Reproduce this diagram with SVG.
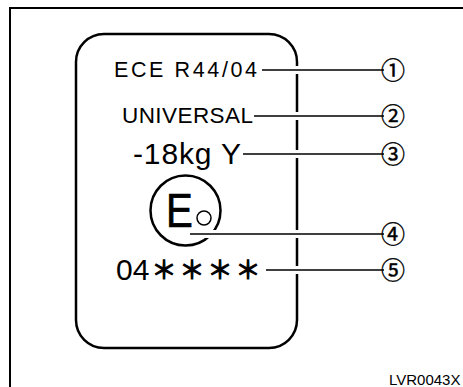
<svg xmlns="http://www.w3.org/2000/svg" width="463" height="387" viewBox="0 0 463 387">
<style>
  .t { font-family: "Liberation Sans", Arial, sans-serif; fill: #000; }
  .num { font-family: "Noto Sans CJK JP", "DejaVu Sans", sans-serif; font-size: 24px; fill: #000; stroke: #000; stroke-width: 0.4; text-anchor: middle; }
  .lead { stroke: #000; stroke-width: 1.5; fill: none; }
  .halo { stroke: #fff; stroke-width: 8; fill: none; }
</style>
<rect width="463" height="387" fill="#fff"/>
<g id="frame">
  <path d="M10 387 V8 H463" fill="none" stroke="#000" stroke-width="2"/>
</g>
<g id="label">
  <rect x="76" y="34" width="221" height="314" rx="28" ry="28" fill="none" stroke="#000" stroke-width="2.5"/>
</g>
<g id="t1"><text class="t" x="114" y="77" font-size="21.5" font-family="DejaVu Sans, sans-serif" textLength="143" lengthAdjust="spacing">ECE R44/04</text></g>
<g id="t2"><text class="t" x="122" y="123" font-size="22.5" textLength="131" lengthAdjust="spacing">UNIVERSAL</text></g>
<g id="t3"><text class="t" x="133" y="164" font-size="30" textLength="108" lengthAdjust="spacing">-18kg Y</text></g>
<g id="emark">
  <circle cx="185.5" cy="210.5" r="35" fill="none" stroke="#000" stroke-width="2.5"/>
  <text class="t" x="0" y="0" font-size="49" stroke="#000" stroke-width="0.7" transform="translate(166 226.5) scale(0.82 1)">E</text>
  <circle cx="204" cy="218" r="7" fill="none" stroke="#000" stroke-width="1.5"/>
</g>
<g id="t5"><text class="t" y="280" font-size="30"><tspan x="116">04</tspan><tspan x="151.5 179.5 207.5 235.5" y="278.5" font-size="25" font-family="Noto Sans CJK JP, sans-serif" stroke="#000" stroke-width="1.1">＊＊＊＊</tspan></text></g>
<g id="connectors">
  <path class="halo" d="M291 70 H303 M291 116 H303 M291 154 H303 M291 234 H303 M291 270 H303 M205 234 H217"/>
  <path class="lead" d="M262 70 H384 M254 116 H384 M243 154 H384 M190 234 H384 M266 270 H384"/>
</g>
<g id="n1"><text class="num" x="393" y="79">①</text></g>
<g id="n2"><text class="num" x="393" y="125">②</text></g>
<g id="n3"><text class="num" x="393" y="163">③</text></g>
<g id="n4"><text class="num" x="393" y="243">④</text></g>
<g id="n5"><text class="num" x="393" y="279">⑤</text></g>
<g id="code"><text class="t" x="389" y="385" font-size="15">LVR0043X</text></g>
</svg>
